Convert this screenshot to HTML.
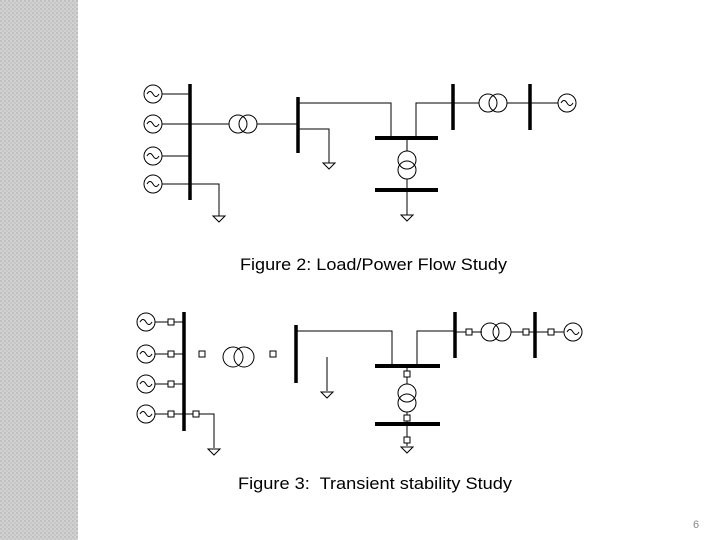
<!DOCTYPE html>
<html><head><meta charset="utf-8"><style>
html,body{margin:0;padding:0;width:720px;height:540px;background:#fff;overflow:hidden}
svg{display:block}
</style></head><body>
<svg width="720" height="540" viewBox="0 0 720 540" xmlns="http://www.w3.org/2000/svg">
<defs>
<pattern id="p" width="4" height="4" patternUnits="userSpaceOnUse">
<rect width="4" height="4" fill="#d2d2d2"/><rect width="2" height="2" fill="#c0c0c0"/><rect x="2" y="2" width="2" height="2" fill="#c6c6c6"/>
</pattern>
</defs>
<rect x="0" y="0" width="78" height="540" fill="url(#p)"/>
<g fill="none" stroke="#000" stroke-width="1">
<circle cx="153" cy="94" r="9"/><circle cx="153" cy="124" r="9"/><circle cx="153" cy="156" r="9"/><circle cx="153" cy="184" r="9"/>
<path d="M147 94q3-5 6 0t6 0M147 124q3-5 6 0t6 0M147 156q3-5 6 0t6 0M147 184q3-5 6 0t6 0"/>
<path d="M162 94H190M162 124H229M162 156H190M162 184H219V216M257 124H298M298 129H329V163M298 103H391V138M416 138V103H453M453 103H479M507 103H530M530 103H558M407 138V151M407 179V215"/>
<circle cx="238" cy="124" r="9"/><circle cx="248" cy="124" r="9"/>
<circle cx="488" cy="103" r="9"/><circle cx="498" cy="103" r="9"/>
<circle cx="567" cy="103" r="9"/><path d="M561 103q3-5 6 0t6 0"/>
<circle cx="407" cy="160" r="9"/><circle cx="407" cy="170" r="9"/>
<path d="M323 163h12l-6 6z M213 216h12l-6 6z M401 215h12l-6 6z"/>
<path d="M190 84V200M298 97V153M453 84V130M530 84V130" stroke-width="3.5"/>
<path d="M375 138H438M375 190H438" stroke-width="4"/>

<circle cx="146" cy="322" r="9"/><circle cx="146" cy="354" r="9"/><circle cx="146" cy="384" r="9"/><circle cx="146" cy="414" r="9"/>
<path d="M140 322q3-5 6 0t6 0M140 354q3-5 6 0t6 0M140 384q3-5 6 0t6 0M140 414q3-5 6 0t6 0"/>
<path d="M155 322H184M155 354H184M155 384H184M155 414H214V448M296 331H392V366M417 366V331H455M455 332H482M511 332H535M535 332H564M327 357V391M407 366V384M407 412V446"/>
<g fill="#fff">
<rect x="168" y="319" width="6" height="6"/><rect x="168" y="351" width="6" height="6"/><rect x="168" y="381" width="6" height="6"/><rect x="168" y="411" width="6" height="6"/>
<rect x="193" y="411" width="6" height="6"/>
<rect x="199" y="351" width="6" height="6"/><rect x="270" y="351" width="6" height="6"/>
<rect x="466" y="329" width="6" height="6"/><rect x="523" y="329" width="6" height="6"/><rect x="548" y="329" width="6" height="6"/>
<rect x="404" y="371" width="6" height="6"/><rect x="404" y="415" width="6" height="6"/><rect x="404" y="437" width="6" height="6"/>
</g>
<circle cx="233" cy="357" r="10"/><circle cx="244" cy="357" r="10"/>
<circle cx="490" cy="332" r="9"/><circle cx="502" cy="332" r="9"/>
<circle cx="573" cy="332" r="9"/><path d="M567 332q3-5 6 0t6 0"/>
<circle cx="407" cy="393" r="9"/><circle cx="407" cy="403" r="9"/>
<path d="M208 449h12l-6 6z M321 392h12l-6 6z M401 447h12l-6 6z"/>
<path d="M184 312V431M296 325V383M455 312V358M535 312V358" stroke-width="3.5"/>
<path d="M375 366H440M375 424H440" stroke-width="4"/>
</g>
<g font-family="Liberation Sans, Arial, sans-serif" font-size="16.5" fill="#000">
<text x="240" y="270" textLength="267" lengthAdjust="spacingAndGlyphs">Figure 2: Load/Power Flow Study</text>
<text x="238" y="489" xml:space="preserve" textLength="274" lengthAdjust="spacingAndGlyphs">Figure 3:  Transient stability Study</text>
</g>
<text x="693" y="528" font-family="Liberation Sans, Arial, sans-serif" font-size="11" fill="#888">6</text>
</svg>
</body></html>
